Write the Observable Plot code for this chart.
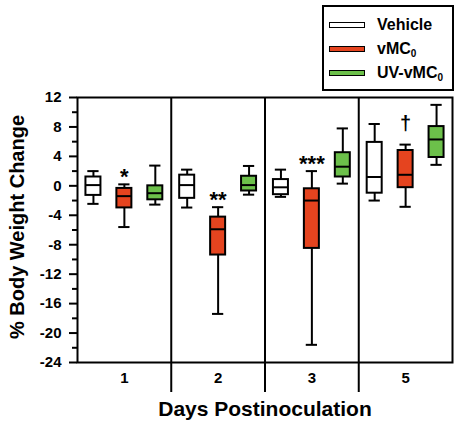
<!DOCTYPE html>
<html><head><meta charset="utf-8">
<script src="https://cdn.jsdelivr.net/npm/d3@7"></script>
<script src="https://cdn.jsdelivr.net/npm/@observablehq/plot@0.6"></script>
<style>
body{margin:0;background:#fff;font-family:"Liberation Sans",Arial,sans-serif;}
#wrap{position:relative;width:459px;height:427px;}
#legend{position:absolute;left:322px;top:5px;width:132px;height:86px;border:2px solid #000;box-sizing:border-box;background:#fff;font-weight:bold;font-size:16px;}
.row{position:absolute;left:5px;height:20px;display:flex;align-items:center;}
.sw{width:36px;height:6px;border:1.5px solid #000;box-sizing:border-box;margin-right:12px;}
sub{font-size:10px;vertical-align:-3px;line-height:0;}
</style></head>
<body><div id="wrap"></div>
<script>
const days = ["1", "2", "3", "5"];
const groups = ["Vehicle", "vMC0", "UV-vMC0"];
const groupColors = ["#ffffff", "#E5441F", "#6CC04A"];

const vehicleMin = [-2.45, -2.95, -1.5, -2.0];
const vehicleQ1  = [-1.3, -1.7, -1.2, -1.0];
const vehicleMed = [0.1, 0.1, -0.2, 1.2];
const vehicleQ3  = [1.2, 1.45, 0.85, 5.9];
const vehicleMax = [2.0, 2.2, 2.2, 8.4];

const vmcMin = [-5.6, -17.4, -21.6, -2.85];
const vmcQ1  = [-3.0, -9.4, -8.5, -0.25];
const vmcMed = [-1.4, -5.9, -2.0, 1.5];
const vmcQ3  = [-0.35, -4.25, -0.4, 4.8];
const vmcMax = [0.2, -2.9, 2.0, 5.6];

const uvMin = [-2.55, -1.2, 0.3, 2.85];
const uvQ1  = [-1.9, -0.7, 1.2, 3.85];
const uvMed = [-1.0, 0.1, 2.6, 6.3];
const uvQ3  = [0.0, 1.3, 4.5, 8.05];
const uvMax = [2.75, 2.7, 7.8, 11.0];

const significance = ["*", "**", "***", "\u2020"];

const yMajorTicks = d3.range(-24, 13, 4);
const yMinorTicks = d3.range(-22, 12, 4);

const stats = [
  [vehicleMin, vehicleQ1, vehicleMed, vehicleQ3, vehicleMax],
  [vmcMin, vmcQ1, vmcMed, vmcQ3, vmcMax],
  [uvMin, uvQ1, uvMed, uvQ3, uvMax]
];
const offsets = [0.17, 0.5, 0.83];
const rows = [];
days.forEach((day, i) => {
  groups.forEach((g, j) => {
    const s = stats[j];
    rows.push({day, group: g, x: i + offsets[j], min: s[0][i], q1: s[1][i], median: s[2][i], q3: s[3][i], max: s[4][i]});
  });
});
const sigRows = rows.filter(r => r.group === "vMC0").map((r, i) => ({...r, text: significance[i]}));
const bw = 0.08, cw = 0.06;

const chart = Plot.plot({
  width: 459, height: 427,
  marginLeft: 77, marginRight: 7, marginTop: 97, marginBottom: 65,
  style: {fontFamily: "'Liberation Sans', Arial, sans-serif", fontWeight: "bold", background: "#fff"},
  x: {domain: [0, 4], axis: null},
  y: {domain: [-24, 12], axis: null},
  color: {domain: groups, range: groupColors},
  marks: [
    Plot.ruleX([1, 2, 3], {stroke: "#000", strokeWidth: 2}),
    Plot.axisX([1, 2, 3], {tickSize: 30, tickFormat: () => "", strokeWidth: 2, label: null}),
    Plot.axisX(days.map((d, i) => i + 0.5), {tickSize: 0, tickPadding: 10, fontSize: 15, fontWeight: "bold", fill: "#000", tickFormat: d => days[Math.floor(d)], label: null}),
    Plot.axisY(yMajorTicks, {tickSize: 8, tickPadding: 8, strokeWidth: 2, fontSize: 15, fontWeight: "bold", fill: "#000", tickFormat: d => String(d), label: null}),
    Plot.axisY(yMinorTicks, {tickSize: 5, strokeWidth: 2, tickFormat: () => "", label: null}),
    Plot.ruleX(rows, {x: "x", y1: "q3", y2: "max", stroke: "#000", strokeWidth: 2}),
    Plot.ruleX(rows, {x: "x", y1: "min", y2: "q1", stroke: "#000", strokeWidth: 2}),
    Plot.ruleY(rows, {y: "max", x1: d => d.x - cw, x2: d => d.x + cw, stroke: "#000", strokeWidth: 2}),
    Plot.ruleY(rows, {y: "min", x1: d => d.x - cw, x2: d => d.x + cw, stroke: "#000", strokeWidth: 2}),
    Plot.rect(rows, {x1: d => d.x - bw, x2: d => d.x + bw, y1: "q1", y2: "q3", fill: "group", stroke: "#000", strokeWidth: 2}),
    Plot.ruleY(rows, {y: "median", x1: d => d.x - bw, x2: d => d.x + bw, stroke: "#000", strokeWidth: 2}),
    Plot.text(sigRows.filter(d => d.text !== "\u2020"), {x: "x", y: "max", text: "text", dy: -7, fontSize: 22, fontWeight: "bold", fill: "#000"}),
    Plot.text(sigRows.filter(d => d.text === "\u2020"), {x: "x", y: "max", text: "text", dy: -21, fontSize: 20, fontWeight: "bold", fill: "#000"}),
    Plot.frame({stroke: "#000", strokeWidth: 2}),
    Plot.text(["Days Postinoculation"], {frameAnchor: "bottom", dy: 53, fontSize: 21, fontWeight: "bold", fill: "#000"}),
    Plot.text(["% Body Weight Change"], {frameAnchor: "left", textAnchor: "middle", dx: -60, dy: -3, rotate: -90, fontSize: 20, fontWeight: "bold", fill: "#000"})
  ]
});
const wrap = document.getElementById("wrap");
wrap.appendChild(chart);

const legend = document.createElement("div");
legend.id = "legend";
const labels = ["Vehicle", "vMC<sub>0</sub>", "UV-vMC<sub>0</sub>"];
const tops = [8, 32, 56];
groups.forEach((g, i) => {
  const row = document.createElement("div");
  row.className = "row";
  row.style.top = tops[i] + "px";
  row.innerHTML = `<div class="sw" style="background:${groupColors[i]}"></div><span>${labels[i]}</span>`;
  legend.appendChild(row);
});
wrap.appendChild(legend);
</script>
</body></html>
